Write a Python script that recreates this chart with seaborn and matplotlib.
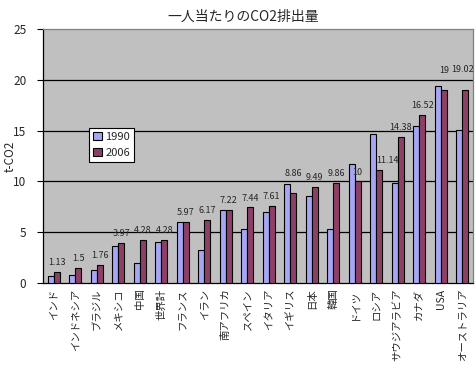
import pandas as pd
import matplotlib
matplotlib.use("Agg")
import matplotlib.pyplot as plt
import seaborn as sns

countries = ["インド", "インドネシア", "ブラジル", "メキシコ", "中国", "世界計",
             "フランス", "イラン", "南アフリカ", "スペイン", "イタリア", "イギリス",
             "日本", "韓国", "ドイツ", "ロシア", "サウジアラビア", "カナダ",
             "USA", "オーストラリア"]
co2_1990 = [0.7, 0.8, 1.25, 3.6, 1.95, 4.0, 6.0, 3.25, 7.2, 5.3, 7.0, 9.7,
            8.6, 5.3, 11.7, 14.7, 9.8, 15.5, 19.4, 15.1]
co2_2006 = [1.13, 1.5, 1.76, 3.97, 4.28, 4.28, 5.97, 6.17, 7.22, 7.44, 7.61, 8.86,
            9.49, 9.86, 10, 11.14, 14.38, 16.52, 19, 19.02]
value_labels = ["1.13", "1.5", "1.76", "3.97", "4.28", "4.28", "5.97", "6.17", "7.22",
                "7.44", "7.61", "8.86", "9.49", "9.86", "10", "11.14", "14.38",
                "16.52", "19", "19.02"]
years = ["1990", "2006"]
y_ticks = [0, 5, 10, 15, 20, 25]

df = pd.DataFrame({
    "国": countries * 2,
    "年": [years[0]] * len(countries) + [years[1]] * len(countries),
    "t-CO2": co2_1990 + co2_2006,
})

sns.set_style("white")
plt.rcParams["font.family"] = ["Noto Sans CJK JP", "DejaVu Sans"]

fig = plt.figure(figsize=(4.76, 3.79), dpi=100)
ax = fig.add_axes([43 / 476, 96 / 379, 430 / 476, 254 / 379])
ax.set_facecolor("#C0C0C0")

sns.barplot(data=df, x="国", y="t-CO2", hue="年", order=countries,
            palette=["#9999FF", "#993366"], width=0.56, edgecolor="black",
            linewidth=0.8, ax=ax, zorder=3)

ax.set_ylim(0, 25)
ax.set_xlim(-0.5, len(countries) - 0.5)
ax.set_yticks(y_ticks)
ax.set_yticklabels([str(t) for t in y_ticks], fontsize=8.5)
for t in y_ticks[1:-1]:
    ax.axhline(t, color="black", linewidth=0.9, zorder=1)

ax.set_xticks(range(len(countries)))
ax.set_xticklabels(countries, rotation=90, fontsize=7.5)
ax.set_xticks([i + 0.5 for i in range(-1, len(countries))], minor=True)
ax.tick_params(axis="x", which="major", length=0, pad=4)
ax.tick_params(axis="x", which="minor", length=3, width=0.8, color="black")
ax.tick_params(axis="y", length=4, width=0.8, color="black", left=True, pad=8)

ax.set_xlabel("")
ax.set_ylabel("t-CO2", fontsize=8.5)
ax.yaxis.set_label_coords(-0.062, 0.5)

for side in ["left", "bottom"]:
    ax.spines[side].set_color("black")
    ax.spines[side].set_linewidth(0.9)
for side in ["top", "right"]:
    ax.spines[side].set_color("#808080")
    ax.spines[side].set_linewidth(0.9)

# data labels for 2006 bars (a few moved by hand like in the original)
label_dx = [0] * len(countries)
label_dy = [3.5] * len(countries)
label_dx[15] = 6
label_dy[11] = 11
label_dy[18] = 11
label_dy[19] = 11
label_dx[19] = -2
for bar, txt, dx, dy in zip(ax.containers[1], value_labels, label_dx, label_dy):
    ax.annotate(txt, (bar.get_x() + bar.get_width() / 2, bar.get_height()),
                xytext=(dx, dy), textcoords="offset points",
                ha="center", va="bottom", fontsize=6.5, zorder=5)

leg = ax.legend(loc="upper left", bbox_to_anchor=(0.107, 0.61), borderaxespad=0,
                fontsize=8, frameon=True, fancybox=False, framealpha=1,
                handlelength=0.8, handleheight=0.8, handletextpad=0.3,
                borderpad=0.35, labelspacing=0.5, edgecolor="black")
leg.get_frame().set_linewidth(0.8)

fig.text(243 / 476, 1 - 17 / 379, "一人当たりのCO2排出量", ha="center", va="center",
         fontsize=10)

fig.savefig("out.png", dpi=100)
